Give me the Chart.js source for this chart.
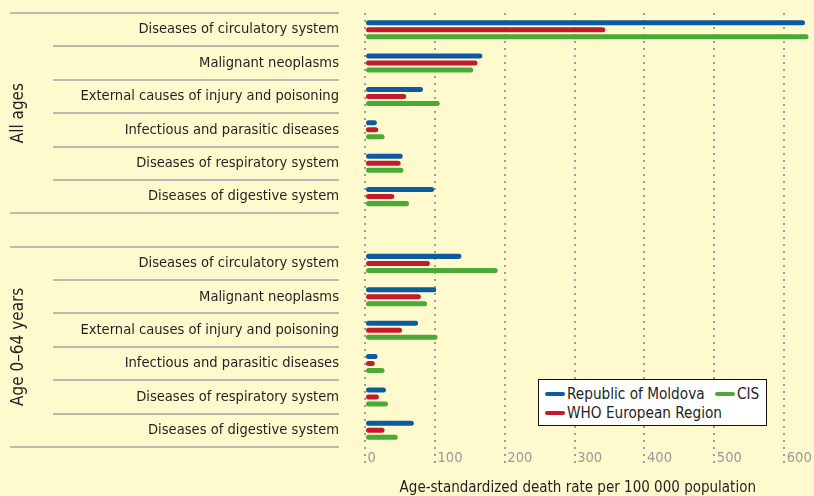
<!DOCTYPE html>
<html><head><meta charset="utf-8">
<script src="https://cdn.jsdelivr.net/npm/chart.js@4/dist/chart.umd.min.js"></script>
<style>
html,body{margin:0;padding:0;background:#fffacd;}
#wrap{position:relative;width:814px;height:496px;overflow:hidden;}
#legend{position:absolute;left:538px;top:379px;width:229px;height:47px;box-sizing:border-box;background:#fff;border:1px solid #111;}
.li{position:absolute;height:20px;line-height:20px;font-size:15.2px;color:#231f20;white-space:nowrap;}
.sw{position:absolute;width:20px;height:4px;border-radius:2px;}
</style></head>
<body>
<div id="wrap">
<canvas id="c" width="814" height="496"></canvas>
<div id="legend"></div>
</div>
<script>
const FONT = "'DejaVu Sans Condensed','Liberation Sans Narrow','Liberation Sans',sans-serif";

const categories = ['Diseases of circulatory system','Malignant neoplasms','External causes of injury and poisoning','Infectious and parasitic diseases','Diseases of respiratory system','Diseases of digestive system'];
const groups = ['All ages','Age 0\u201364 years'];
const seriesNames = ['Republic of Moldova','WHO European Region','CIS'];
const seriesColors = ['#0b5aa2','#c41a2b','#4aaa35'];
const moldovaAll = [630,168,83,17,54,99];
const moldovaU64 = [138,102,76,18,30,70];
const whoAll = [344,161,59,19,51,42];
const whoU64 = [93,80,53,14,20,28];
const cisAll = [635,155,107,28,55,63];
const cisU64 = [190,89,104,28,33,47];
const xTicks = [0,100,200,300,400,500,600];
const xTitle = 'Age-standardized death rate per 100 000 population';

const labels = [...categories, '', ...categories];
const series = [[moldovaAll, moldovaU64],[whoAll, whoU64],[cisAll, cisU64]];

document.getElementById('legend').style.fontFamily = FONT;

const decor = {
  id:'decor',
  beforeDraw(chart){
    const y = chart.scales.y, ctx = chart.ctx;
    const n = labels.length, g = categories.length;
    const edge = i => i===0 ? y.top : i===n ? y.bottom : (y.getPixelForValue(i-1)+y.getPixelForValue(i))/2;
    ctx.save();
    ctx.strokeStyle = '#a2a5a8'; ctx.lineWidth = 1.3;
    for (let i=0;i<=n;i++){
      const full = (i===0 || i===g || i===g+1 || i===n);
      const yy = Math.round(edge(i));
      ctx.beginPath(); ctx.moveTo(full?10:53, yy); ctx.lineTo(339, yy); ctx.stroke();
    }
    ctx.fillStyle = '#231f20';
    ctx.font = '17px ' + FONT;
    ctx.textAlign = 'center'; ctx.textBaseline = 'middle';
    const mids = [(edge(0)+edge(g))/2, (edge(g+1)+edge(n))/2];
    groups.forEach((t,k)=>{
      ctx.save(); ctx.translate(19, mids[k]); ctx.rotate(-Math.PI/2);
      ctx.fillText(t, 0, 0); ctx.restore();
    });
    ctx.restore();
  }
};

new Chart(document.getElementById('c'), {
  type:'bar',
  data:{
    labels,
    datasets: seriesNames.map((name,k)=>({
      label:name,
      data:[...series[k][0], null, ...series[k][1]],
      backgroundColor:seriesColors[k],
      borderWidth:0,
      borderRadius:3,
      borderSkipped:false,
      categoryPercentage:0.63,
      barPercentage:0.714
    }))
  },
  options:{
    indexAxis:'y',
    responsive:false,
    animation:false,
    layout:{padding:{top:13,right:2,bottom:0,left:0}},
    plugins:{legend:{display:false},tooltip:{enabled:false}},
    scales:{
      x:{
        min:0, max:640,
        afterBuildTicks: s => { s.ticks = xTicks.map(v=>({value:v})); },
        afterFit: s => { s.height = 49; },
        grid:{color:'#9c9c9c', lineWidth:2, drawTicks:true, tickLength:20, tickColor:'#9c9c9c', tickWidth:2, tickBorderDash:[2,5]},
        border:{display:false, dash:[2,5]},
        ticks:{align:'start', padding:-18, color:'#9a9a9a', font:{family:FONT,size:14.6}, callback:(v)=>'\u2009'+v},
        title:{display:true, text:xTitle+'\u00a0\u00a0\u00a0\u00a0\u00a0', color:'#231f20', font:{family:FONT,size:15,lineHeight:1}, padding:{top:0,bottom:0}}
      },
      y:{
        type:'category', offset:true,
        afterFit: s => { s.width = 365; },
        grid:{display:true, drawOnChartArea:false, drawTicks:true, tickLength:26, tickColor:'rgba(0,0,0,0)'},
        border:{display:false},
        ticks:{padding:0, color:'#231f20', font:{family:FONT,size:14.6}, autoSkip:false}
      }
    }
  },
  plugins:[decor]
});

// HTML legend built from series arrays
const leg = document.getElementById('legend');
const pos = [{x:6,y:4},{x:6,y:23},{x:176,y:4}];
seriesNames.forEach((name,k)=>{
  const sw = document.createElement('div');
  sw.className='sw'; sw.style.background=seriesColors[k];
  sw.style.left=pos[k].x+'px'; sw.style.top=(pos[k].y+8)+'px';
  leg.appendChild(sw);
  const t = document.createElement('div');
  t.className='li'; t.textContent=name;
  t.style.left=(pos[k].x+22)+'px'; t.style.top=pos[k].y+'px';
  leg.appendChild(t);
});
</script>
</body></html>
